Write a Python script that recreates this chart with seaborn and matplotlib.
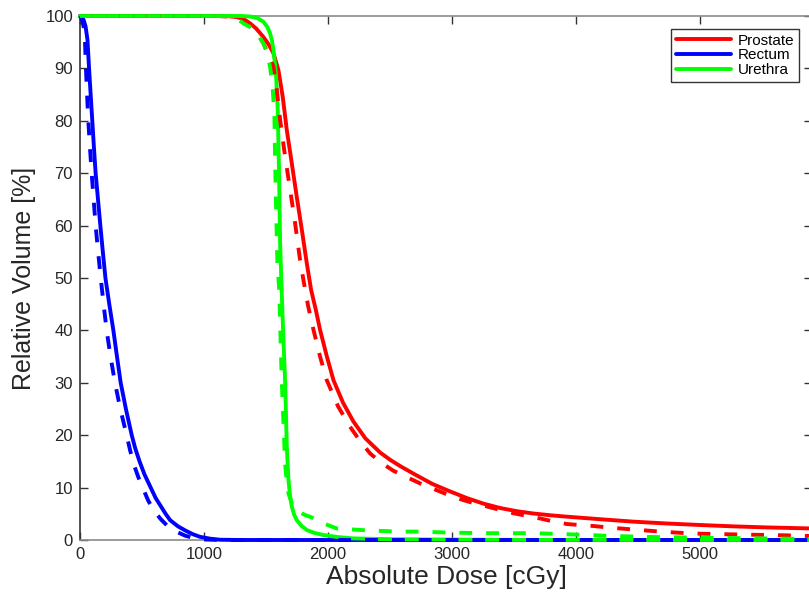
import matplotlib
matplotlib.use("Agg")
import matplotlib.pyplot as plt
import seaborn as sns
import pandas as pd

# ---- data ----
prostate_solid_dose = [0, 1100, 1200, 1263, 1320, 1371, 1420, 1478, 1520, 1559, 1599, 1634, 1667,
                       1707, 1747, 1788, 1828, 1863, 1900, 1935, 1990, 2043, 2120, 2204, 2300,
                       2419, 2500, 2581, 2700, 2840, 2980, 3118, 3250, 3387, 3520, 3656, 3800,
                       3925, 4200, 4462, 4730, 5000, 5270, 5538, 5900]
prostate_solid_vol = [100, 100, 99.95, 99.8, 99.4, 98.6, 97.6, 96, 94.6, 92.9, 89.7, 84.6, 78.2,
                      71.9, 65.5, 59.2, 52.8, 47.7, 44, 40.1, 35, 30.5, 26.2, 22.6, 19.4,
                      16.7, 15.3, 14.1, 12.5, 10.7, 9.3, 8.0, 6.95, 6.1, 5.5, 5.05, 4.7,
                      4.45, 3.95, 3.5, 3.15, 2.86, 2.6, 2.4, 2.2]

prostate_dash_dose = [0, 1100, 1200, 1260, 1317, 1370, 1420, 1478, 1530, 1559, 1586, 1613, 1653,
                      1694, 1734, 1774, 1801, 1840, 1882, 1935, 1989, 2080, 2177, 2260, 2339,
                      2430, 2527, 2634, 2750, 2876, 2980, 3091, 3180, 3280, 3390, 3495, 3600,
                      3710, 3820, 3925, 4030, 4140, 4250, 4355, 4460, 4570, 4680, 4785, 4890,
                      5000, 5215, 5430, 5672, 5900]
prostate_dash_vol = [100, 100, 99.9, 99.5, 98.9, 98.1, 97, 94.8, 92, 90.3, 85.9, 80.2, 73.2,
                     66.8, 60.4, 53.4, 49.6, 44.5, 40.1, 35, 30.5, 25.5, 21.6, 18.8, 16.5,
                     14.7, 13.2, 12.0, 10.7, 9.5, 8.5, 7.6, 7.0, 6.4, 5.7, 5.1, 4.6,
                     4.1, 3.5, 3.05, 2.85, 2.67, 2.4, 2.2, 2.0, 1.8, 1.6, 1.45, 1.3,
                     1.2, 1.1, 1.0, 0.9, 0.75]

rectum_solid_dose = [0, 15, 30, 45, 60, 73, 86, 99, 112, 126, 145, 164, 184, 205, 236, 269, 298,
                     328, 370, 417, 445, 480, 520, 570, 610, 650, 690, 726, 790, 850, 910, 968,
                     1050, 1130, 1300, 5900]
rectum_solid_vol = [100, 99.8, 99.2, 98, 95.5, 90, 85, 80, 75, 70, 65, 60, 55, 50, 45, 40, 35,
                    30, 25, 20, 17.5, 15, 12.5, 10, 8, 6.5, 5, 3.8, 2.6, 1.8, 1.1, 0.6,
                    0.25, 0.05, 0, 0]

rectum_dash_dose = [0, 10, 20, 30, 40, 48, 57, 67, 80, 94, 110, 126, 146, 167, 190, 215, 246,
                    282, 325, 376, 405, 440, 470, 505, 550, 600, 650, 700, 775, 850, 925, 1000,
                    1100, 1200, 5900]
rectum_dash_vol = [100, 99.7, 99, 97.8, 95.4, 90, 85, 80, 75, 70, 65, 60, 55, 50, 45, 40, 35,
                   30, 25, 20, 17, 14, 12, 10, 7.5, 5.5, 4, 2.8, 1.6, 0.8, 0.35, 0.1,
                   0.02, 0, 0]

urethra_solid_dose = [0, 1300, 1371, 1430, 1478, 1510, 1532, 1548, 1559, 1571, 1581, 1594, 1605,
                      1613, 1625, 1640, 1653, 1667, 1680, 1693, 1707, 1725, 1747, 1785, 1828,
                      1890, 1962, 2080, 2204, 2500, 2823, 3500, 5900]
urethra_solid_vol = [100, 100, 99.9, 99.6, 98.9, 97.9, 96.7, 95.2, 93.5, 91, 88.4, 82, 69.3,
                     56.6, 48, 38, 30.5, 17.8, 11.5, 8.5, 6.4, 4.9, 3.8, 2.7, 1.9,
                     1.35, 0.95, 0.55, 0.3, 0.15, 0.1, 0.02, 0]

urethra_dash_dose = [0, 1200, 1260, 1317, 1370, 1420, 1478, 1510, 1532, 1554, 1567, 1573, 1581,
                     1591, 1605, 1626, 1653, 1665, 1680, 1710, 1747, 1810, 1880, 1970, 2070,
                     2200, 2339, 2581, 2742, 2984, 3300, 3656, 3925, 4301, 4624, 5000, 5400,
                     5900]
urethra_dash_vol = [100, 100, 99.6, 98.6, 97.9, 97, 94.8, 92.8, 90.3, 85.9, 80.8, 71.9, 63,
                    52.8, 48, 30.5, 14.6, 11.5, 8.9, 6.8, 5.7, 4.8, 4.2, 3.1, 2.2,
                    2.0, 1.8, 1.6, 1.6, 1.4, 1.3, 1.3, 1.1, 0.76, 0.57, 0.45, 0.33,
                    0.2]

structures = ["Prostate", "Rectum", "Urethra"]
colors = {"Prostate": "#ff0000", "Rectum": "#0000ff", "Urethra": "#00ff00"}

x_ticks = [0, 1000, 2000, 3000, 4000, 5000]
y_ticks = [0, 10, 20, 30, 40, 50, 60, 70, 80, 90, 100]

series = [
    ("Prostate", "solid", prostate_solid_dose, prostate_solid_vol),
    ("Rectum", "solid", rectum_solid_dose, rectum_solid_vol),
    ("Urethra", "solid", urethra_solid_dose, urethra_solid_vol),
    ("Prostate", "dash", prostate_dash_dose, prostate_dash_vol),
    ("Rectum", "dash", rectum_dash_dose, rectum_dash_vol),
    ("Urethra", "dash", urethra_dash_dose, urethra_dash_vol),
]

# ---- styling ----
sns.set_style("ticks")
plt.rcParams["font.family"] = ["Liberation Sans", "DejaVu Sans"]

fig = plt.figure(figsize=(8.09, 5.94), dpi=100)
ax = fig.add_axes([80 / 809, 54 / 594, 732 / 809, 524 / 594])

lw = 2.8
handles = {}
for name, kind, d, v in series:
    df = pd.DataFrame({"dose": d, "vol": v})
    n_before = len(ax.lines)
    sns.lineplot(data=df, x="dose", y="vol", ax=ax, color=colors[name],
                 linewidth=lw, estimator=None, sort=False,
                 linestyle="-" if kind == "solid" else (0, (3.3, 3.6)),
                 clip_on=False, zorder=3)
    ax.lines[n_before].set_solid_joinstyle("round")
    ax.lines[n_before].set_dash_joinstyle("round")
    if kind == "solid":
        handles[name] = ax.lines[n_before]

ax.set_xlim(0, 5900)
ax.set_ylim(0, 100)
ax.set_xticks(x_ticks)
ax.set_yticks(y_ticks)
ax.set_xticklabels([str(t) for t in x_ticks])
ax.set_yticklabels([str(t) for t in y_ticks])

ax.tick_params(direction="in", top=True, right=True, length=6, width=1,
               color="#333333", labelsize=12, labelcolor="#262626", pad=5)

for s in ["top", "bottom", "right"]:
    ax.spines[s].set_color("#8a8a8a")
    ax.spines[s].set_linewidth(1.2)
ax.spines["left"].set_color("#333333")
ax.spines["left"].set_linewidth(1.2)

ax.set_xlabel("Absolute Dose [cGy]", fontsize=19, color="#262626", labelpad=2)
ax.set_ylabel("Relative Volume [%]", fontsize=18, color="#262626", labelpad=7)

leg = ax.legend([handles[s] for s in structures], structures, loc="upper right",
                fontsize=11, frameon=True, fancybox=False, framealpha=1,
                edgecolor="#333333", handlelength=3.6, labelspacing=0.05,
                borderpad=0.3, handletextpad=0.45, borderaxespad=0.85)
leg.get_frame().set_linewidth(1.0)
for t in leg.get_texts():
    t.set_color("#000000")

fig.savefig("out.png", dpi=100)
